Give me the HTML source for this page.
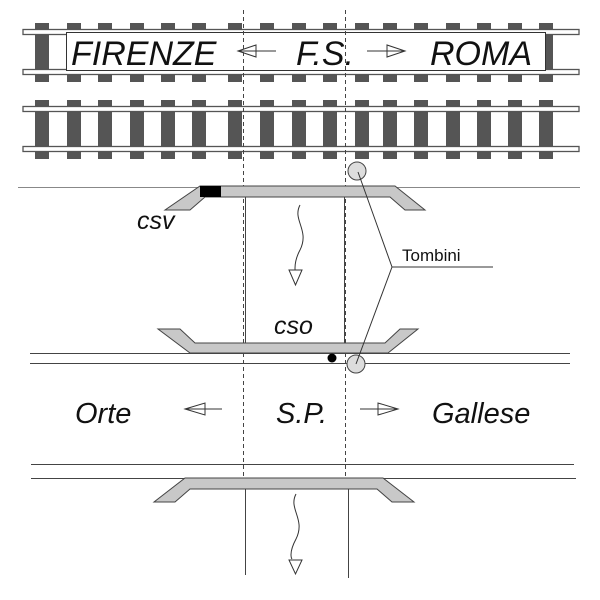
<!DOCTYPE html>
<html><head><style>body{margin:0;background:#fff}svg{display:block}text{font-family:"Liberation Sans",sans-serif}</style></head>
<body>
<svg width="600" height="600" viewBox="0 0 600 600">
<g id="t1">
<g fill="#555">
<rect x="35" y="23" width="14" height="59"/><rect x="67" y="23" width="14" height="59"/><rect x="98" y="23" width="14" height="59"/><rect x="130" y="23" width="14" height="59"/><rect x="161" y="23" width="14" height="59"/><rect x="192" y="23" width="14" height="59"/><rect x="228" y="23" width="14" height="59"/><rect x="260" y="23" width="14" height="59"/><rect x="292" y="23" width="14" height="59"/><rect x="323" y="23" width="14" height="59"/><rect x="355" y="23" width="14" height="59"/><rect x="383" y="23" width="14" height="59"/><rect x="414" y="23" width="14" height="59"/><rect x="446" y="23" width="14" height="59"/><rect x="477" y="23" width="14" height="59"/><rect x="508" y="23" width="14" height="59"/><rect x="539" y="23" width="14" height="59"/>
</g>
<rect x="23" y="29.5" width="556" height="5" fill="#fff" stroke="#555" stroke-width="1.3"/>
<rect x="23" y="69.5" width="556" height="5" fill="#fff" stroke="#555" stroke-width="1.3"/>
</g>
<use href="#t1" y="77"/>
<rect x="66.5" y="32.5" width="479" height="38" fill="#fff" stroke="#333"/>
<text x="71" y="65" font-size="34" font-style="italic" fill="#111">FIRENZE</text>
<text x="296" y="65" font-size="34" font-style="italic" fill="#111">F.S.</text>
<text x="430" y="65" font-size="34" font-style="italic" fill="#111">ROMA</text>
<g fill="#fff" stroke="#333" stroke-width="1">
<path d="M238 51H276M238 51l18-6v12z"/>
<path d="M367 51H405M405 51l-18-6v12z"/>
<path d="M185 409H222M185 409l20-6v12z"/>
<path d="M360 409H398M398 409l-20-6v12z"/>
</g>
<text x="75" y="423" font-size="29" font-style="italic" fill="#111">Orte</text>
<text x="276" y="423" font-size="29" font-style="italic" fill="#111">S.P.</text>
<text x="432" y="423" font-size="29" font-style="italic" fill="#111">Gallese</text>
<line x1="18" y1="187.5" x2="580" y2="187.5" stroke="#888"/>
<g stroke="#444" fill="none" stroke-width="1">
<line x1="30" y1="353.5" x2="570" y2="353.5"/><line x1="30" y1="363.5" x2="570" y2="363.5"/>
<line x1="31" y1="464.5" x2="574" y2="464.5"/><line x1="31" y1="478.5" x2="576" y2="478.5"/>
<line x1="245.5" y1="197" x2="245.5" y2="343"/><line x1="344.5" y1="197" x2="344.5" y2="343"/>
<line x1="245.5" y1="489" x2="245.5" y2="575"/><line x1="348.5" y1="489" x2="348.5" y2="578"/>
<line x1="243.5" y1="10" x2="243.5" y2="478" stroke-dasharray="4,3"/>
<line x1="345.5" y1="10" x2="345.5" y2="478" stroke-dasharray="4,3"/>
</g>
<g fill="#c8c8c8" stroke="#444">
<path d="M200 186H395L425 210H405L390 197H205L190 210H165Z"/>
<path d="M190 353H388L418 329H400L385 343H195L180 329H158Z"/>
<path d="M185 478H383L414 502H392L377 489H190L175 502H154Z"/>
</g>
<rect x="200" y="186" width="21" height="11" fill="#000"/>
<circle cx="332" cy="358" r="4.5" fill="#000"/>
<g stroke="#333" fill="none">
<path d="M300 205c-8 15 10 25 0 45c-8 15 -4 25 -4 25"/>
<path d="M296 494c-8 15 10 25 0 45c-8 15 -4 20 -4 20"/>
</g>
<path d="M289 270h13l-6.5 15z" fill="#fff" stroke="#333"/>
<path d="M289 560h13l-6.5 14z" fill="#fff" stroke="#333"/>
<g stroke="#444" fill="#ddd">
<circle cx="357" cy="171" r="9"/>
<circle cx="356" cy="364" r="9"/>
</g>
<path d="M358 172L392 267L356 364M392 267H493" stroke="#333" fill="none"/>
<text x="402" y="261" font-size="17" fill="#111">Tombini</text>
<text x="137" y="229" font-size="25" font-style="italic" fill="#111">csv</text>
<text x="274" y="334" font-size="25" font-style="italic" fill="#111">cso</text>
</svg>
</body></html>
